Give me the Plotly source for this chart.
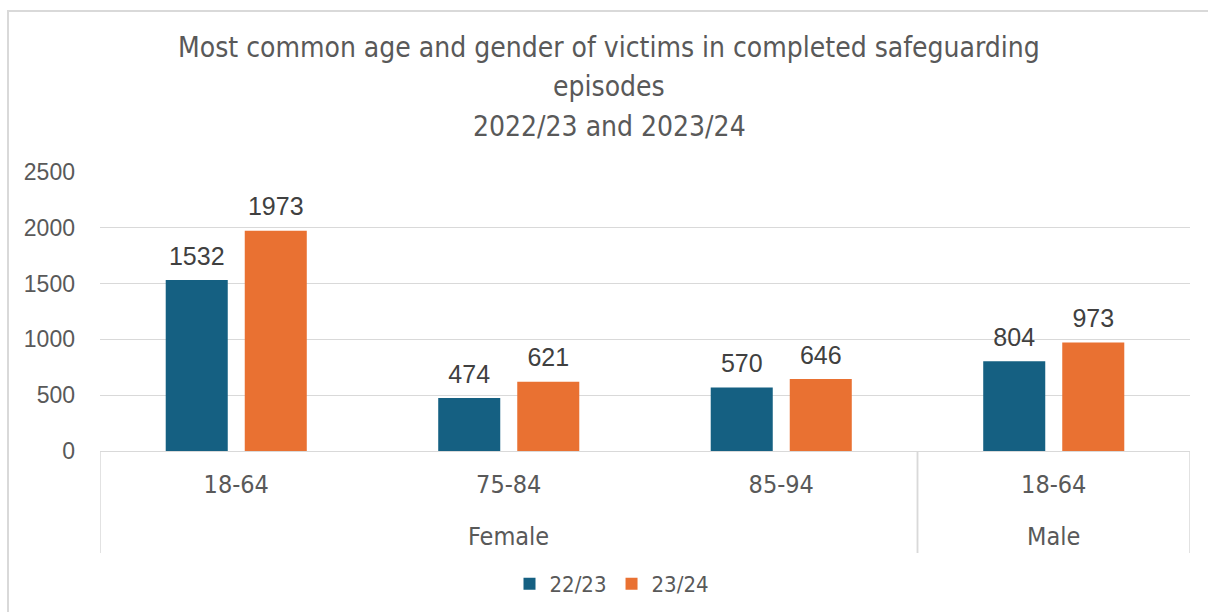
import plotly.graph_objects as go

genders = ["Female", "Female", "Female", "Male"]
ages = ["18-64", "75-84", "85-94", "18-64"]
series_names = ["22/23", "23/24"]
values_2223 = [1532, 474, 570, 804]
values_2324 = [1973, 621, 646, 973]
colors = ["#156082", "#E97132"]
title_lines = ["Most common age and gender of victims in completed safeguarding",
               "episodes", "2022/23 and 2023/24"]

NARROW = "Liberation Sans Narrow, Arial Narrow, DejaVu Sans Condensed, sans-serif"
REG = "Liberation Sans, Arial, sans-serif"
GRID = "#D9D9D9"
TXT = "#595959"

xpos = list(range(len(ages)))

fig = go.Figure()
for name, vals, col in zip(series_names, [values_2223, values_2324], colors):
    fig.add_trace(go.Bar(
        name=name,
        x=xpos,
        y=vals,
        marker=dict(color=col, line=dict(width=0)),
        text=[f"<span style='font-size:25px'>{v}</span><br>\u00a0" for v in vals],
        textposition="outside",
        textfont=dict(family=REG, size=8, color="#404040"),
        constraintext="none",
        cliponaxis=False,
    ))

fig.update_layout(
    width=1208, height=612,
    paper_bgcolor="white", plot_bgcolor="white",
    margin=dict(l=100, r=18, t=172, b=161, autoexpand=False),
    barmode="group", bargap=0.42, bargroupgap=0.215,
    legend=dict(
        orientation="h", x=(612 - 100) / 1090, xanchor="center", y=-(584 - 451) / 279,
        yanchor="middle",
        font=dict(family=NARROW, size=22, color=TXT),
        traceorder="normal",
    ),
)
fig.update_yaxes(
    range=[0, 2500], dtick=500, showgrid=True, gridcolor=GRID, gridwidth=1,
    zeroline=False, showline=False, ticks="", automargin=False,
    tickfont=dict(family=REG, size=23, color=TXT), ticklabelstandoff=24,
)
fig.update_xaxes(
    range=[-0.5, len(ages) - 0.5], tickmode="array", tickvals=xpos, ticktext=ages,
    showgrid=False, zeroline=False, showline=True, linecolor=GRID, linewidth=1,
    tickfont=dict(family=NARROW, size=25, color=TXT), ticks="", ticklabelstandoff=11,
    automargin=False,
)

# title lines
for i, (line, ypx) in enumerate(zip(title_lines, [47, 86, 126])):
    fig.add_annotation(text=line, xref="paper", yref="paper", x=(609 - 100) / 1090,
                       y=(451 - ypx) / 279, xanchor="center", yanchor="middle",
                       showarrow=False, font=dict(family=NARROW, size=28, color=TXT))

# group labels and dividers
groups = []
for i, g in enumerate(genders):
    if groups and groups[-1][0] == g:
        groups[-1][2] = i
    else:
        groups.append([g, i, i])
for g, i0, i1 in groups:
    fig.add_annotation(text=g, xref="x", yref="paper", x=(i0 + i1) / 2, y=(451 - 536) / 279,
                       xanchor="center", yanchor="middle", showarrow=False,
                       font=dict(family=NARROW, size=25, color=TXT))
    for xb in (i0 - 0.5, i1 + 0.5):
        fig.add_shape(type="line", xref="x", yref="paper", x0=xb, x1=xb, y0=0,
                      y1=-(553 - 451) / 279, line=dict(color=GRID, width=1.5))

fig.add_shape(type="rect", xref="paper", yref="paper",
              x0=-92 / 1090, x1=1.2, y0=-1.0, y1=(451 - 11) / 279,
              line=dict(color=GRID, width=2), fillcolor="rgba(0,0,0,0)", layer="below")

fig.write_html("out.html", config={"displayModeBar": False},
               post_script="document.body.style.margin='0px';")
